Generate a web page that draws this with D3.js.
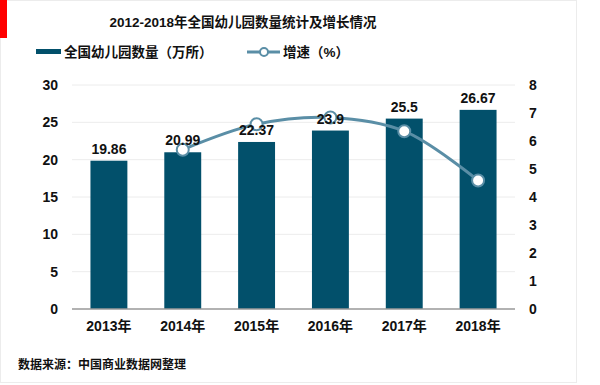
<!DOCTYPE html>
<html>
<head>
<meta charset="utf-8">
<script src="https://cdn.jsdelivr.net/npm/d3@7"></script>
<style>
  body { margin: 0; background: #fff; font-family: "Liberation Sans", Arial, "Noto Sans CJK SC", sans-serif; }
  svg text { fill: #111; }
</style>
</head>
<body>
<div id="chart"></div>
<script>
// data
var years = ["2013年", "2014年", "2015年", "2016年", "2017年", "2018年"];
var counts = [19.86, 20.99, 22.37, 23.9, 25.5, 26.67];
var growth = [null, 5.69, 6.6, 6.84, 6.35, 4.59];
var leftTicks = [0, 5, 10, 15, 20, 25, 30];
var rightTicks = [0, 1, 2, 3, 4, 5, 6, 7, 8];

var W = 600, H = 385;
var margin = { top: 85, right: 85, bottom: 76, left: 72 },
  width = W - margin.left - margin.right,
  height = H - margin.top - margin.bottom;

var barColor = "#02506b";
var lineColor = "#5a8ea6";

var svg = d3.select("#chart").append("svg")
  .attr("width", W)
  .attr("height", H);

// outer frame + red marker
svg.append("rect").attr("x", 0.5).attr("y", 0.5).attr("width", 576).attr("height", 382)
  .attr("fill", "none").attr("stroke", "#ececec");
svg.append("rect").attr("x", 0).attr("y", 0).attr("width", 7).attr("height", 38).attr("fill", "#ff0000");

// title
svg.append("text").attr("x", 243).attr("y", 27).attr("text-anchor", "middle")
  .style("font-size", "13.5px").style("font-weight", "bold")
  .text("2012-2018年全国幼儿园数量统计及增长情况");

// legend
svg.append("rect").attr("x", 36).attr("y", 49).attr("width", 25).attr("height", 5).attr("fill", barColor);
svg.append("text").attr("x", 64).attr("y", 57).style("font-size", "13.5px").style("font-weight", "bold")
  .text("全国幼儿园数量（万所）");
svg.append("line").attr("x1", 247).attr("x2", 280).attr("y1", 52).attr("y2", 52)
  .attr("stroke", lineColor).attr("stroke-width", 3);
svg.append("circle").attr("cx", 264).attr("cy", 52).attr("r", 4)
  .attr("fill", "#fff").attr("stroke", lineColor).attr("stroke-width", 2);
svg.append("text").attr("x", 283).attr("y", 57).style("font-size", "13.5px").style("font-weight", "bold")
  .text("增速（%）");

var g = svg.append("g").attr("transform", "translate(" + margin.left + "," + margin.top + ")");

var x = d3.scaleBand().domain(years).range([0, width]).paddingInner(0.5).paddingOuter(0.25);
var y = d3.scaleLinear().domain([0, 30]).range([height, 0]);
var y2 = d3.scaleLinear().domain([0, 8]).range([height, 0]);

// gridlines
g.selectAll(".grid").data(leftTicks.filter(d => d > 0)).enter().append("line")
  .attr("x1", 0).attr("x2", width)
  .attr("y1", d => y(d)).attr("y2", d => y(d))
  .attr("stroke", "#ececec").attr("stroke-width", 1);

// bars
g.selectAll(".bar").data(counts).enter().append("rect")
  .attr("x", (d, i) => x(years[i]))
  .attr("y", d => y(d))
  .attr("width", x.bandwidth())
  .attr("height", d => height - y(d))
  .attr("fill", barColor);

// baseline
g.append("line").attr("x1", 0).attr("x2", width).attr("y1", height).attr("y2", height)
  .attr("stroke", "#999").attr("stroke-width", 1.5);

// growth line
var pts = growth.map((d, i) => ({ v: d, yr: years[i] })).filter(d => d.v !== null);
var line = d3.line()
  .x(d => x(d.yr) + x.bandwidth() / 2)
  .y(d => y2(d.v))
  .curve(d3.curveCatmullRom.alpha(0.5));
g.append("path").datum(pts).attr("d", line)
  .attr("fill", "none").attr("stroke", lineColor).attr("stroke-width", 3);
g.selectAll(".pt").data(pts).enter().append("circle")
  .attr("cx", d => x(d.yr) + x.bandwidth() / 2)
  .attr("cy", d => y2(d.v))
  .attr("r", 6)
  .attr("fill", "#fff").attr("stroke", lineColor).attr("stroke-width", 2);

// bar labels (on top of the line)
g.selectAll(".blabel").data(counts).enter().append("text")
  .attr("x", (d, i) => x(years[i]) + x.bandwidth() / 2)
  .attr("y", d => y(d) - 7)
  .attr("text-anchor", "middle")
  .style("font-size", "14px").style("font-weight", "bold")
  .text(d => d);

// axes
var leftAxis = g.append("g").call(d3.axisLeft(y).tickValues(leftTicks).tickSize(0).tickPadding(14));
var rightAxis = g.append("g").attr("transform", "translate(" + width + ",0)")
  .call(d3.axisRight(y2).tickValues(rightTicks).tickSize(0).tickPadding(14));
var bottomAxis = g.append("g").attr("transform", "translate(0," + height + ")")
  .call(d3.axisBottom(x).tickSize(0).tickPadding(12));
[leftAxis, rightAxis, bottomAxis].forEach(a => {
  a.select(".domain").remove();
  a.selectAll("text").style("font-size", "14px").style("font-weight", "bold")
    .style("font-family", "'Liberation Sans', Arial, 'Noto Sans CJK SC', sans-serif").attr("fill", "#111");
});

// footer
svg.append("text").attr("x", 18).attr("y", 369).style("font-size", "12px").style("font-weight", "bold")
  .text("数据来源：中国商业数据网整理");
</script>
</body>
</html>
